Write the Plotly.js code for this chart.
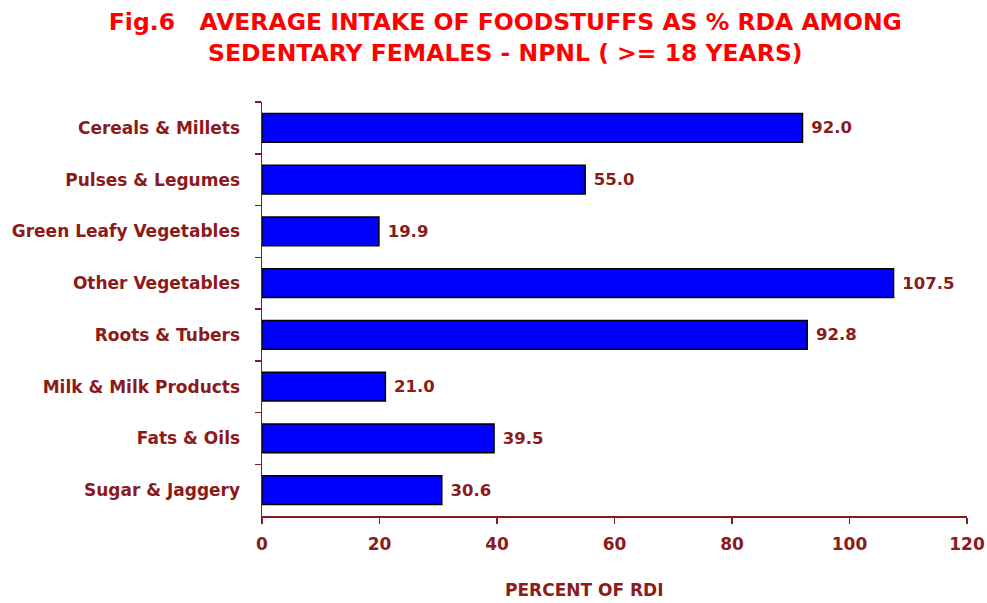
<!DOCTYPE html>
<html>
<head>
<meta charset="utf-8">
<script src="https://cdn.plot.ly/plotly-3.0.1.min.js"></script>
<style>html,body{margin:0;padding:0;background:#fff;}#chart{width:987px;height:603px;}</style>
</head>
<body>
<div id="chart"></div>
<script>
const categories = ["Cereals & Millets", "Pulses & Legumes", "Green Leafy Vegetables", "Other Vegetables", "Roots & Tubers", "Milk & Milk Products", "Fats & Oils", "Sugar & Jaggery"];
const values = [92.0, 55.0, 19.9, 107.5, 92.8, 21.0, 39.5, 30.6];
const xTicks = [0, 20, 40, 60, 80, 100, 120];

const dark = "#8B1A1A";
const fontFam = "DejaVu Sans, Verdana, sans-serif";

const trace = {
  type: "bar",
  orientation: "h",
  x: values,
  y: categories,
  marker: {color: "#0000FF", line: {color: "#000000", width: 1.5}},
  texttemplate: " %{x:.1f}",
  textposition: "outside",
  cliponaxis: false,
  textfont: {family: fontFam, size: 16.5, color: dark, weight: "bold"},
  hoverinfo: "none"
};

const layout = {
  width: 987, height: 603,
  margin: {l: 262, r: 20, t: 102, b: 87},
  paper_bgcolor: "#ffffff", plot_bgcolor: "#ffffff",
  showlegend: false,
  bargap: 0.44,
  title: {
    text: "Fig.6   AVERAGE INTAKE OF FOODSTUFFS AS % RDA AMONG<br>SEDENTARY FEMALES - NPNL ( >= 18 YEARS)",
    font: {family: fontFam, size: 23.5, color: "#FF0000", weight: "bold"},
    x: 0.512, xref: "container", xanchor: "center",
    y: 0.95, yref: "container", yanchor: "top"
  },
  xaxis: {
    range: [0, 120],
    tickvals: xTicks,
    ticktext: xTicks.map(String),
    showgrid: false, zeroline: false,
    showline: true, linecolor: dark, linewidth: 1.5,
    ticks: "outside", ticklen: 6, tickcolor: dark, tickwidth: 1.5,
    ticklabelstandoff: 6,
    tickfont: {family: fontFam, size: 17, color: dark, weight: "bold"},
    fixedrange: true
  },
  yaxis: {
    type: "category",
    categoryorder: "array", categoryarray: categories,
    range: [7.5, -0.5],
    showgrid: false, zeroline: false,
    showline: true, linecolor: dark, linewidth: 1.5,
    ticks: "outside", tickson: "boundaries", ticklen: 6, tickcolor: dark, tickwidth: 1.5,
    ticklabelstandoff: 17,
    tickfont: {family: fontFam, size: 17, color: dark, weight: "bold"},
    fixedrange: true
  },
  annotations: [{
    text: "PERCENT OF RDI",
    xref: "paper", yref: "paper",
    x: (584 - 262) / 705, y: -0.178, xanchor: "center", yanchor: "middle",
    showarrow: false,
    font: {family: fontFam, size: 17, color: dark, weight: "bold"}
  }]
};

Plotly.newPlot("chart", [trace], layout, {displayModeBar: false, staticPlot: true});
</script>
</body>
</html>
